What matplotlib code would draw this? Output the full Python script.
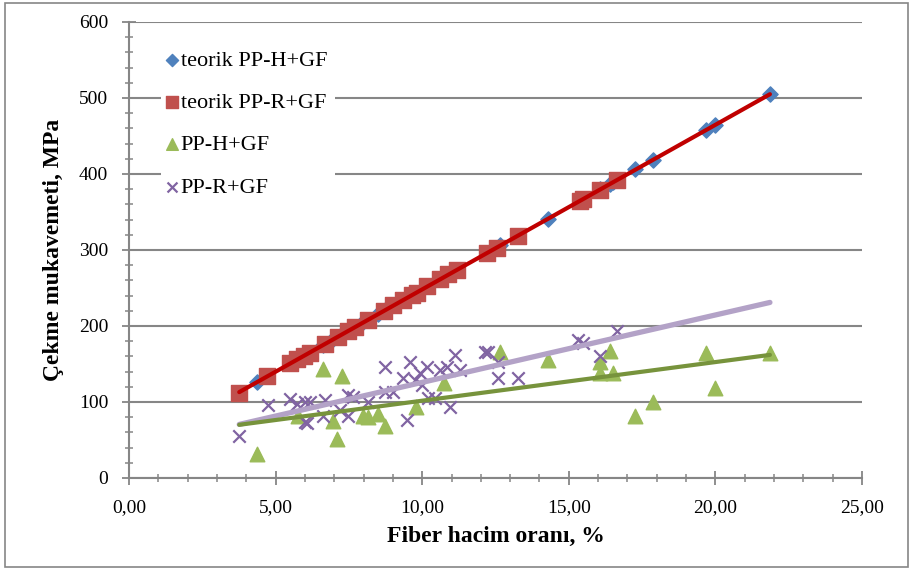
import matplotlib
matplotlib.use('Agg')
import matplotlib.pyplot as plt
from matplotlib.patches import Rectangle
from matplotlib.ticker import MultipleLocator, FixedLocator

plt.rcParams['font.family'] = ['Liberation Serif', 'DejaVu Serif']

# teorik PP-H+GF
th_h_x = [4.35, 5.76, 6.62, 6.96, 7.10, 7.25, 7.98, 8.15, 8.50, 8.73, 9.79, 10.74,
          12.65, 14.28, 16.07, 16.40, 16.50, 17.26, 17.88, 19.68, 19.99, 21.86]
th_h_y = [126, 157, 175, 183, 186, 189, 205, 208, 216, 221, 244, 264,
          306, 341, 380, 387, 389, 406, 419, 458, 465, 505]

# teorik PP-R+GF
th_r_x = [3.76, 4.72, 5.49, 5.72, 5.97, 6.17, 6.68, 7.14, 7.48, 7.71, 8.16, 8.70,
          9.01, 9.36, 9.64, 9.81, 10.15, 10.61, 10.89, 11.18, 12.20, 12.54, 13.28,
          15.38, 15.50, 16.06, 16.63]
th_r_y = [112, 134, 151, 156, 161, 165, 176, 186, 194, 199, 208, 220,
          227, 234, 241, 244, 252, 262, 268, 274, 296, 303, 319,
          365, 367, 379, 392]

# PP-H+GF
h_x = [4.35, 5.76, 6.62, 6.96, 7.10, 7.25, 7.98, 8.15, 8.50, 8.73, 9.79, 10.74,
       12.65, 14.28, 16.07, 16.07, 16.40, 16.50, 17.26, 17.88, 19.68, 19.99, 21.86]
h_y = [32, 81, 143, 75, 51, 134, 81, 80, 84, 68, 93, 125,
       166, 155, 153, 138, 167, 138, 82, 100, 165, 118, 165]

# PP-R+GF
r_x = [3.75, 4.73, 5.49, 5.72, 6.00, 6.17, 6.00, 6.06, 6.68, 6.63, 7.20, 7.46,
       7.65, 7.48, 8.16, 8.73, 8.73, 9.01, 9.47, 9.36, 9.58, 9.75, 9.92, 9.98,
       10.15, 10.20, 10.44, 10.60, 10.83, 10.95, 11.12, 11.29, 12.14, 12.26,
       12.60, 12.60, 13.28, 15.33, 15.50, 16.06, 16.63]
r_y = [55, 96, 104, 98, 100, 100, 74, 72, 103, 81, 89, 109,
       107, 81, 100, 146, 113, 113, 76, 131, 153, 129, 138, 122,
       146, 105, 105, 142, 146, 93, 162, 142, 166, 166,
       153, 131, 131, 182, 177, 160, 194]

# trend lines (end points)
trend_x = [3.76, 21.86]
trend_th_y = [113, 505]
trend_h_y = [70, 162]
trend_r_y = [70.5, 231]

x_ticks = [0, 5, 10, 15, 20, 25]
x_ticklabels = ['0,00', '5,00', '10,00', '15,00', '20,00', '25,00']

gray = '#868686'

fig = plt.figure(figsize=(9.14, 5.70), dpi=100)
ax = fig.add_axes([129/914, 92/570, 733/914, 456/570])

ax.scatter(th_h_x, th_h_y, marker='D', s=60, color='#4F81BD', zorder=3,
           label='teorik PP-H+GF')
ax.scatter(th_r_x, th_r_y, marker='s', s=120, color='#C0504D', zorder=4,
           label='teorik PP-R+GF')
ax.scatter(h_x, h_y, marker='^', s=110, color='#9BBB59', zorder=5,
           label='PP-H+GF')
ax.scatter(r_x, r_y, marker='x', s=80, color='#8064A2', linewidths=1.6, zorder=6,
           label='PP-R+GF')

ax.plot(trend_x, trend_th_y, color='#C00000', lw=3, solid_capstyle='round', zorder=7)
ax.plot(trend_x, trend_r_y, color='#B3A2C7', lw=3.8, solid_capstyle='round', zorder=7)
ax.plot(trend_x, trend_h_y, color='#77933C', lw=3, solid_capstyle='round', zorder=8)

ax.set_xlim(0, 25)
ax.set_ylim(0, 600)
ax.xaxis.set_major_locator(FixedLocator(x_ticks))
ax.set_xticklabels(x_ticklabels)
ax.xaxis.set_minor_locator(MultipleLocator(1))
ax.yaxis.set_major_locator(MultipleLocator(100))
ax.yaxis.set_minor_locator(MultipleLocator(20))

ax.grid(axis='y', which='major', color=gray, lw=1.5, zorder=0)
ax.set_axisbelow(True)
for s in ['top', 'right']:
    ax.spines[s].set_visible(False)
for s in ['left', 'bottom']:
    ax.spines[s].set_color(gray)
    ax.spines[s].set_linewidth(1.5)

ax.tick_params(which='major', direction='inout', length=10, width=1.3, color=gray,
               labelsize=14)
ax.tick_params(axis='x', which='major', pad=10)
ax.tick_params(axis='y', which='major', pad=10)
ax.tick_params(which='minor', direction='inout', length=6, width=1.1, color=gray)

ax.set_xlabel('Fiber hacim oranı, %', fontsize=17, fontweight='bold', labelpad=7)
ax.set_ylabel('Çekme mukavemeti, MPa', fontsize=17, fontweight='bold', labelpad=11)

leg = ax.legend(loc='upper left', bbox_to_anchor=(0.028, 0.98), frameon=True,
                fancybox=False, edgecolor='none', facecolor='white', framealpha=1,
                fontsize=16, handletextpad=0.2, labelspacing=0.98,
                borderpad=0.35, handlelength=0.35, markerscale=0.8)
leg.set_zorder(10)

fig.patches.append(Rectangle((5/914, 3/570), 903/914, 564/570, transform=fig.transFigure,
                             fill=False, edgecolor=gray, lw=1.2))

fig.savefig('out.png', dpi=100)
